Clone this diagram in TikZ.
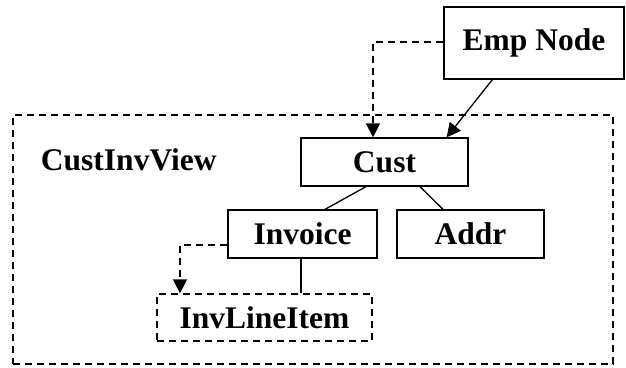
\documentclass[tikz,border=0pt]{standalone}
\usepackage{fontspec}
\setmainfont{Liberation Serif}
\usetikzlibrary{arrows.meta,calc}
\begin{document}
\begin{tikzpicture}[x=1pt,y=-1pt,line width=1.3pt,
      kotak/.style={draw,rectangle,inner sep=0pt,font=\fontsize{31.5}{31.5}\selectfont\bfseries},
      putus/.style={kotak,dash pattern=on 7pt off 5pt},
      panah/.style={-{Triangle[length=14pt,width=14pt]}}]
    \useasboundingbox (0,0) rectangle (626,367);
    % Wadah view
    \node[putus,minimum width=600pt,minimum height=249pt] (view) at (313,239.5) {};
    \node[anchor=west,font=\fontsize{31.5}{31.5}\selectfont\bfseries] (nmview) at (37,160) {CustInvView};
    % Simpul-simpul
    \node[kotak,minimum width=180pt,minimum height=72pt] (emp) at (534,43) {Emp Node};
    \node[kotak,minimum width=167pt,minimum height=48pt] (cust) at (384.5,162) {Cust};
    \node[kotak,minimum width=149pt,minimum height=48pt] (inv) at (302.5,234) {Invoice};
    \node[kotak,minimum width=147pt,minimum height=48pt] (addr) at (470.5,234) {Addr};
    \node[putus,minimum width=215pt,minimum height=47pt] (item) at (264.5,317.5) {InvLineItem};
    % Garis penghubung
    \draw[panah,dash pattern=on 7pt off 5pt] (emp.west |- 0,42) -- (373,42) -- (cust.north -| 373,0);
    \draw[panah] ([xshift=49pt]emp.south west) -- ([xshift=-22pt]cust.north east);
    \draw ([xshift=-18.5pt]cust.south) -- ([xshift=22.5pt]inv.north);
    \draw ([xshift=35.5pt]cust.south) -- ([xshift=-27.5pt]addr.north);
    \draw[panah,dash pattern=on 7pt off 5pt] ([yshift=-11pt]inv.west) -- (180,245) -- (item.north -| 180,0);
    \draw ([xshift=-1.5pt]inv.south) -- (item.north -| 301,0);
\end{tikzpicture}
\end{document}
